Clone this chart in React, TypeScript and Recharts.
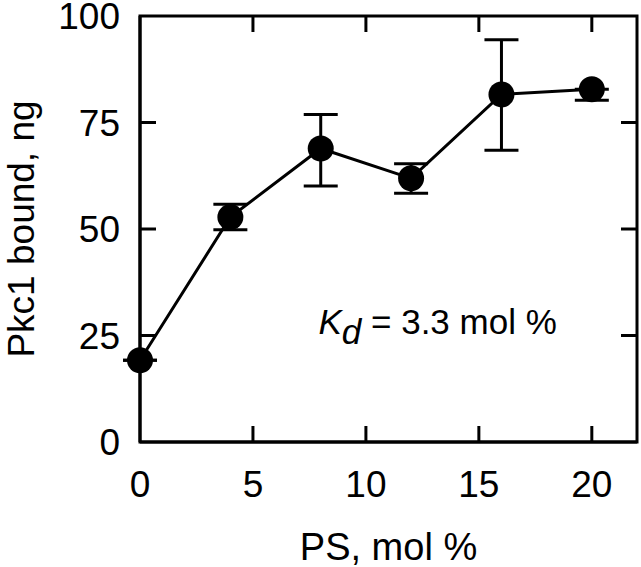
import React from "react"
import { LineChart, Line, XAxis, YAxis, ErrorBar, ReferenceDot, ReferenceArea } from "recharts"

// PS mol % vs Pkc1 bound (ng), means with asymmetric error bars
const psMol = [0, 4, 8, 12, 16, 20]
const pkcBound = [19.2, 52.8, 68.9, 61.9, 81.6, 82.8]
const errLow = [0, 3.0, 8.8, 3.5, 13.1, 2.6]
const errHigh = [0, 3.0, 8.0, 3.4, 12.8, 0]
const xTicks = [0, 5, 10, 15, 20]
const yTicks = [0, 25, 50, 75, 100]
const xMax = 22
const yMax = 100

const data = psMol.map((x, i) => ({ x, y: pkcBound[i], err: [errLow[i], errHigh[i]] }))

const FONT = '"Liberation Sans", Arial, sans-serif'
const INK = "#000"
const TICK_LEN = 16

// plot frame (from the chart margins / axis sizes below)
const W = 641
const H = 567
const M_TOP = 16
const M_RIGHT = 4
const Y_AXIS_W = 140
const X_AXIS_H = 125
const PLOT_TOP = M_TOP
const PLOT_BOTTOM = H - X_AXIS_H
const PLOT_LEFT = Y_AXIS_W
const PLOT_RIGHT = W - M_RIGHT

// bottom labels + inward ticks on bottom and top edges
function BottomTick(props: any) {
  const { x, payload } = props
  const inner = payload.value > 0
  return (
    <g>
      {inner && <line x1={x} x2={x} y1={PLOT_BOTTOM} y2={PLOT_BOTTOM - TICK_LEN} stroke={INK} strokeWidth={3} />}
      {inner && <line x1={x} x2={x} y1={PLOT_TOP} y2={PLOT_TOP + TICK_LEN} stroke={INK} strokeWidth={3} />}
      <text x={x} y={PLOT_BOTTOM + 28} dy="0.72em" textAnchor="middle" fontFamily={FONT} fontSize={37} fill={INK}>
        {payload.value}
      </text>
    </g>
  )
}

// left labels + inward ticks on left and right edges
function LeftTick(props: any) {
  const { y, payload } = props
  const inner = payload.value > 0 && payload.value < yMax
  return (
    <g>
      {inner && <line x1={PLOT_LEFT} x2={PLOT_LEFT + TICK_LEN} y1={y} y2={y} stroke={INK} strokeWidth={3} />}
      {inner && <line x1={PLOT_RIGHT} x2={PLOT_RIGHT - TICK_LEN} y1={y} y2={y} stroke={INK} strokeWidth={3} />}
      <text x={PLOT_LEFT - 20} y={y} dy="0.36em" textAnchor="end" fontFamily={FONT} fontSize={37} fill={INK}>
        {payload.value}
      </text>
    </g>
  )
}

export default function App() {
  return (
    <div style={{ position: "absolute", left: 0, top: 0, background: "#fff" }}>
      <LineChart width={W} height={H} data={data} margin={{ top: M_TOP, right: M_RIGHT, bottom: 0, left: 0 }}>
        <XAxis
          xAxisId="b"
          dataKey="x"
          type="number"
          domain={[0, xMax]}
          ticks={xTicks}
          height={X_AXIS_H}
          tickLine={false}
          tick={<BottomTick />}
          axisLine={{ stroke: INK, strokeWidth: 3 }}
          label={(p: any) => {
            const vb = p.viewBox
            return (
              <text x={vb.x + vb.width / 2} y={560} textAnchor="middle" fontFamily={FONT} fontSize={38} fill={INK}>
                PS, mol %
              </text>
            )
          }}
        />
        <YAxis
          yAxisId="l"
          type="number"
          domain={[0, yMax]}
          ticks={yTicks}
          width={Y_AXIS_W}
          tickLine={false}
          tick={<LeftTick />}
          axisLine={{ stroke: INK, strokeWidth: 3 }}
          label={(p: any) => {
            const vb = p.viewBox
            const cy = vb.y + vb.height / 2
            return (
              <text x={34} y={cy} transform={`rotate(-90, 34, ${cy})`} textAnchor="middle" fontFamily={FONT} fontSize={37} fill={INK}>
                Pkc1 bound, ng
              </text>
            )
          }}
        />
        <ReferenceArea
          xAxisId="b"
          yAxisId="l"
          x1={0}
          x2={xMax}
          y1={0}
          y2={yMax}
          fill="none"
          fillOpacity={0}
          stroke={INK}
          strokeWidth={3}
          ifOverflow="visible"
        />
        <ReferenceDot
          xAxisId="b"
          yAxisId="l"
          x={7.9}
          y={25.4}
          r={0}
          fill="none"
          stroke="none"
          label={(p: any) => {
            const vb = p.viewBox
            return (
              <text x={vb.x} y={vb.y} fontFamily={FONT} fontSize={35} fill={INK}>
                <tspan fontStyle="italic">K</tspan>
                <tspan fontStyle="italic" dy={10}>d</tspan>
                <tspan dy={-10}> = 3.3 mol %</tspan>
              </text>
            )
          }}
        />
        <Line
          xAxisId="b"
          yAxisId="l"
          dataKey="y"
          stroke={INK}
          strokeWidth={3}
          dot={{ r: 13, fill: INK, stroke: "none" }}
          activeDot={false}
          isAnimationActive={false}
        >
          <ErrorBar dataKey="err" width={17} stroke={INK} strokeWidth={3} direction="y" isAnimationActive={false} />
        </Line>
      </LineChart>
    </div>
  )
}
